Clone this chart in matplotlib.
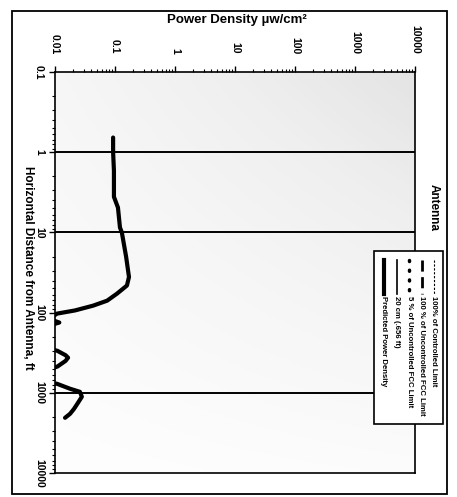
import matplotlib
matplotlib.use("Agg")
import matplotlib.pyplot as plt
import numpy as np
from matplotlib.lines import Line2D
from matplotlib.patches import Rectangle
from matplotlib.ticker import FixedFormatter, FixedLocator, LogLocator, NullFormatter

# The scanned chart is turned 90 degrees clockwise, so distance runs down
# the page and power density runs across it.

# predicted power density along the ground (values below 0.01 are off scale)
DIST_FT = [0.656, 1.0, 1.7, 3.6, 4.9, 8.7, 10, 20, 36, 46, 58, 71, 82, 94, 103,
           120, 133, 145,
           280, 300, 340, 365, 400, 470, 510,
           740, 772, 890, 972, 1120, 1330, 1590, 1830, 2050]
POWER_UW = [0.093, 0.093, 0.096, 0.096, 0.112, 0.121, 0.13, 0.153, 0.171, 0.158,
            0.108, 0.074, 0.043, 0.0215, 0.0108,
            0.008, 0.0118, 0.008,
            0.008, 0.011, 0.015, 0.0165, 0.015, 0.011, 0.008,
            0.008, 0.0108, 0.0178, 0.026, 0.028, 0.0242, 0.0207, 0.0178, 0.0147]

POWER_TICKS = [0.01, 0.1, 1, 10, 100, 1000, 10000]
POWER_LABELS = ["0.01", "0.1", "1", "10", "100", "1000", "10000"]
DIST_TICKS = [0.1, 1, 10, 100, 1000, 10000]
DIST_LABELS = ["0.1", "1", "10", "100", "1000", "10000"]
GRID_FT = [1, 10, 1000]

LEGEND_LABELS = [
    "100% of Controlled Limit",
    "100 % of Uncontrolled FCC Limit",
    "5 % of Uncontrolled FCC Limit",
    "20 cm (.656 ft)",
    "Predicted Power Density",
]
LEGEND_STYLES = [
    dict(lw=0.8, linestyle=(0, (2, 1.5))),
    dict(lw=2.0, linestyle=(0, (4, 2))),
    dict(lw=2.5, linestyle=(0, (0.3, 2.5)), dash_capstyle="round"),
    dict(lw=1.2, linestyle="-"),
    dict(lw=3.0, linestyle="-"),
]

W, H = 457, 497


def fx(px):
    return px / W


def fy(py):
    return 1 - py / H


plt.rcParams["font.family"] = ["Liberation Sans", "DejaVu Sans"]
plt.rcParams["font.weight"] = "bold"

fig = plt.figure(figsize=(W / 100, H / 100), dpi=100)
rect = [fx(55), fy(473), (415 - 55) / W, (473 - 72) / H]

# stippled chart fill of the scan, approximated with a light grey wash
bg = fig.add_axes(rect, zorder=0)
shade = np.outer(np.linspace(0.19, 0.03, 60), np.linspace(0.4, 1.0, 60))
bg.imshow(shade, cmap="Greys", vmin=0, vmax=1, aspect="auto",
          extent=[0, 1, 0, 1], interpolation="bilinear")
bg.axis("off")

ax = fig.add_axes(rect, zorder=1)
ax.set_facecolor("none")
ax.set_xscale("log")
ax.set_yscale("log")
ax.set_xlim(0.01, 10000)
ax.set_ylim(10000, 0.1)

ax.plot(POWER_UW, DIST_FT, color="black", lw=3.0, solid_capstyle="round")
for d in GRID_FT:
    ax.axhline(d, color="black", lw=1.4)

ax.xaxis.set_major_locator(FixedLocator(POWER_TICKS))
ax.xaxis.set_major_formatter(FixedFormatter(POWER_LABELS))
ax.yaxis.set_major_locator(FixedLocator(DIST_TICKS))
ax.yaxis.set_major_formatter(FixedFormatter(DIST_LABELS))
for axis in (ax.xaxis, ax.yaxis):
    axis.set_minor_locator(LogLocator(base=10, subs=np.arange(2, 10), numticks=20))
    axis.set_minor_formatter(NullFormatter())

ax.tick_params(axis="x", which="both", top=True, bottom=False,
               labeltop=True, labelbottom=False, labelrotation=-90, pad=9)
ax.tick_params(axis="y", which="both", labelrotation=-90, pad=4)
ax.tick_params(which="major", length=4, width=1, labelsize=7.5)
ax.tick_params(which="minor", length=2, width=0.8)
for lab in ax.get_yticklabels():
    lab.set_verticalalignment("center")
for sp in ax.spines.values():
    sp.set_linewidth(1.2)

fig.text(fx(237), fy(20), "Power Density µw/cm²", ha="center", va="center",
         fontsize=9.5, weight="bold")
fig.text(fx(28), fy(268), "Horizontal Distance from Antenna, ft", rotation=-90,
         ha="center", va="center", fontsize=8.5, weight="bold")
fig.text(fx(434), fy(184), "Antenna", rotation=-90, ha="center", va="top",
         fontsize=8.5, weight="bold", zorder=2)

# legend, drawn by hand because it is turned with the rest of the page
box = Rectangle((fx(374), fy(424)), (443 - 374) / W, (424 - 251) / H,
                transform=fig.transFigure, fc="white", ec="black", lw=1.2, zorder=5)
fig.add_artist(box)
for i, (label, style) in enumerate(zip(LEGEND_LABELS, LEGEND_STYLES)):
    xp = 434 - i * 12.5
    fig.add_artist(Line2D([fx(xp), fx(xp)], [fy(260), fy(294)],
                          transform=fig.transFigure, color="black", zorder=6, **style))
    fig.text(fx(xp), fy(296), label, rotation=-90, ha="center", va="top",
             fontsize=5.6, weight="bold", zorder=6)

fig.add_artist(Rectangle((fx(12), fy(494)), 435 / W, 483 / H, transform=fig.transFigure,
                         fill=False, ec="black", lw=1.3, zorder=4))

fig.savefig("out.png", dpi=100)
